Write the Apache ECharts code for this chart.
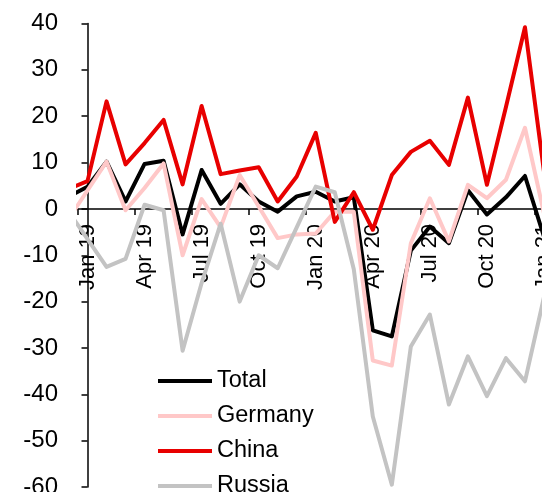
<!DOCTYPE html>
<html>
<head>
<meta charset="utf-8">
<script src="https://cdn.jsdelivr.net/npm/echarts@6/dist/echarts.min.js"></script>
<style>
  html, body { margin: 0; padding: 0; background: #fff; }
  #chart { width: 542px; height: 492px; }
</style>
</head>
<body>
<div id="chart"></div>
<script>
// Monthly points; the first (Dec 18) sits just left of the plot and is clipped
const months = ['Dec 18',
  'Jan 19', 'Feb 19', 'Mar 19', 'Apr 19', 'May 19', 'Jun 19', 'Jul 19', 'Aug 19', 'Sep 19', 'Oct 19', 'Nov 19', 'Dec 19',
  'Jan 20', 'Feb 20', 'Mar 20', 'Apr 20', 'May 20', 'Jun 20', 'Jul 20', 'Aug 20', 'Sep 20', 'Oct 20', 'Nov 20', 'Dec 20',
  'Jan 21'];

const total = [2.6,
  4.8, 10.2, 1.6, 9.7, 10.4, -5.5, 8.4, 1.1, 5.3, 1.6, -0.6, 2.7,
  3.7, 1.6, 2.5, -26.2, -27.5, -9.0, -3.8, -7.4, 4.0, -1.2, 2.5, 7.1,
  -6.0];

const germany = [-2.2,
  4.0, 10.2, -0.3, 4.5, 9.8, -10.0, 2.1, -4.0, 7.3, 0.5, -6.3, -5.5,
  -5.3, -0.6, -0.6, -32.7, -33.8, -7.4, 2.3, -7.0, 5.2, 2.3, 6.3, 17.5,
  -1.0];

const china = [4.3,
  6.0, 23.2, 9.6, 14.2, 19.2, 5.3, 22.2, 7.5, 8.3, 9.0, 1.6, 7.0,
  16.4, -2.8, 3.6, -4.5, 7.3, 12.3, 14.7, 9.5, 24.0, 5.2, 22.0, 39.2,
  8.0];

const russia = [-0.5,
  -6.5, -12.5, -10.8, 0.9, -0.3, -30.6, -16.0, -3.2, -20.0, -10.0, -12.8, -4.0,
  4.8, 3.6, -13.0, -44.8, -59.5, -29.7, -22.8, -42.2, -31.8, -40.4, -32.2, -37.2,
  -19.0];

const yTicks = { min: -60, max: 40, step: 10 };

const shown = months.slice(1);
const toPairs = arr => arr.map((v, i) => [i - 1, v]);

const FONT = 'Liberation Sans, Arial, sans-serif';

const chart = echarts.init(document.getElementById('chart'), null, { renderer: 'canvas' });

function line(name, data, color) {
  return {
    name: name,
    type: 'line',
    xAxisIndex: 1,
    data: toPairs(data),
    symbol: 'none',
    clip: true,
    z: 5,
    lineStyle: { color: color, width: 4, join: 'round' },
    itemStyle: { color: color },
    emphasis: { disabled: true },
    animation: false
  };
}

chart.setOption({
  animation: false,
  grid: {
    left: 78, top: 23.5, bottom: 5, right: -11.5,
    containLabel: false,
    outerBoundsMode: 'none'
  },
  legend: {
    orient: 'vertical',
    left: 158,
    top: 369,
    height: 200,
    icon: 'rect',
    itemWidth: 54,
    itemHeight: 4,
    itemGap: 11,
    padding: 0,
    z: 6,
    textStyle: { fontFamily: FONT, fontSize: 23.5, color: '#000' },
    data: ['Total', 'Germany', 'China', 'Russia']
  },
  xAxis: [
    {
      type: 'category',
      data: shown,
      boundaryGap: true,
      z: 1,
      axisLine: { onZero: false, lineStyle: { color: '#000', width: 1.5 } },
      axisTick: { show: true, interval: 2, length: 6, lineStyle: { color: '#000', width: 1.5 } },
      axisLabel: {
        interval: 2,
        rotate: 90,
        margin: 15,
        fontFamily: FONT,
        fontSize: 22,
        color: '#000',
        hideOverlap: false
      },
      splitLine: { show: false }
    },
    {
      type: 'value',
      min: -0.5,
      max: shown.length - 0.5,
      show: false
    }
  ],
  yAxis: {
    type: 'value',
    min: yTicks.min,
    max: yTicks.max,
    interval: yTicks.step,
    z: 1,
    axisLine: { show: true, lineStyle: { color: '#000', width: 1.5 } },
    axisTick: { show: true, length: 6, lineStyle: { color: '#000', width: 1.5 } },
    axisLabel: { fontFamily: FONT, fontSize: 24, color: '#000', margin: 20 },
    splitLine: { show: false }
  },
  series: [
    line('Total', total, '#000000'),
    line('Germany', germany, '#FFC8C8'),
    line('China', china, '#E80000'),
    line('Russia', russia, '#C3C3C3')
  ]
});

// Lift the category axis (line, ticks and labels) up to the y = 0 level
const zeroPx = chart.convertToPixel({ yAxisIndex: 0 }, 0);
const floorPx = chart.convertToPixel({ yAxisIndex: 0 }, yTicks.min);
chart.setOption({ xAxis: [{ offset: zeroPx - floorPx }, {}] });
</script>
</body>
</html>
